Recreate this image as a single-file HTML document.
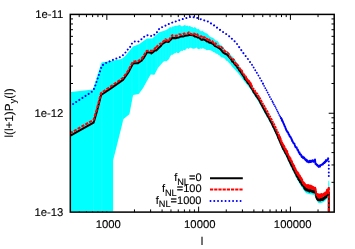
<!DOCTYPE html>
<html><head><meta charset="utf-8"><style>
html,body{margin:0;padding:0;background:#fff;}
svg{display:block;will-change:transform;}
text{font-family:"Liberation Sans",sans-serif;fill:#000;text-rendering:geometricPrecision;stroke:#000;stroke-width:0.12px;}
</style></head><body>
<svg width="355" height="249" viewBox="0 0 355 249">
<rect width="355" height="249" fill="#fff"/>
<defs><clipPath id="cp"><rect x="71" y="14" width="263" height="197.4"/></clipPath><clipPath id="cp2"><rect x="70.3" y="14.4" width="263.9" height="197.7"/></clipPath></defs>
<path d="M79.20,212.10 v-2.70 M79.20,14.40 v2.70 M86.46,212.10 v-2.70 M86.46,14.40 v2.70 M92.61,212.10 v-2.70 M92.61,14.40 v2.70 M97.93,212.10 v-2.70 M97.93,14.40 v2.70 M102.63,212.10 v-2.70 M102.63,14.40 v2.70 M106.83,212.10 v-5.50 M106.83,14.40 v5.50 M134.46,212.10 v-2.70 M134.46,14.40 v2.70 M150.62,212.10 v-2.70 M150.62,14.40 v2.70 M162.09,212.10 v-2.70 M162.09,14.40 v2.70 M170.98,212.10 v-2.70 M170.98,14.40 v2.70 M178.25,212.10 v-2.70 M178.25,14.40 v2.70 M184.40,212.10 v-2.70 M184.40,14.40 v2.70 M189.72,212.10 v-2.70 M189.72,14.40 v2.70 M194.42,212.10 v-2.70 M194.42,14.40 v2.70 M198.62,212.10 v-5.50 M198.62,14.40 v5.50 M226.25,212.10 v-2.70 M226.25,14.40 v2.70 M242.41,212.10 v-2.70 M242.41,14.40 v2.70 M253.88,212.10 v-2.70 M253.88,14.40 v2.70 M262.77,212.10 v-2.70 M262.77,14.40 v2.70 M270.04,212.10 v-2.70 M270.04,14.40 v2.70 M276.19,212.10 v-2.70 M276.19,14.40 v2.70 M281.51,212.10 v-2.70 M281.51,14.40 v2.70 M286.21,212.10 v-2.70 M286.21,14.40 v2.70 M290.41,212.10 v-5.50 M290.41,14.40 v5.50 M318.04,212.10 v-2.70 M318.04,14.40 v2.70 M70.30,182.34 h2.70 M334.20,182.34 h-2.70 M70.30,164.94 h2.70 M334.20,164.94 h-2.70 M70.30,152.59 h2.70 M334.20,152.59 h-2.70 M70.30,143.01 h2.70 M334.20,143.01 h-2.70 M70.30,135.18 h2.70 M334.20,135.18 h-2.70 M70.30,128.56 h2.70 M334.20,128.56 h-2.70 M70.30,122.83 h2.70 M334.20,122.83 h-2.70 M70.30,117.77 h2.70 M334.20,117.77 h-2.70 M70.30,113.25 h5.50 M334.20,113.25 h-5.50 M70.30,83.49 h2.70 M334.20,83.49 h-2.70 M70.30,66.09 h2.70 M334.20,66.09 h-2.70 M70.30,53.74 h2.70 M334.20,53.74 h-2.70 M70.30,44.16 h2.70 M334.20,44.16 h-2.70 M70.30,36.33 h2.70 M334.20,36.33 h-2.70 M70.30,29.71 h2.70 M334.20,29.71 h-2.70 M70.30,23.98 h2.70 M334.20,23.98 h-2.70 M70.30,18.92 h2.70 M334.20,18.92 h-2.70" stroke="#000" stroke-width="1" fill="none"/>
<g clip-path="url(#cp)">
<polygon points="70.00,212.00 70.00,92.00 93.00,89.50 101.50,62.50 113.60,60.60 121.50,59.00 125.30,56.00 133.00,46.50 139.00,44.30 147.00,38.60 152.20,38.40 159.20,32.30 165.00,30.50 166.25,29.74 167.50,29.17 168.75,28.31 170.00,27.03 171.25,27.52 172.50,26.50 173.75,26.40 175.00,25.73 176.25,25.70 177.50,25.71 178.75,25.27 180.00,24.82 181.25,26.19 182.50,26.14 183.75,25.45 185.00,25.00 186.22,25.99 187.44,25.53 188.67,26.55 189.89,25.83 191.11,27.11 192.33,27.12 193.56,28.06 194.78,26.94 196.00,28.00 197.25,29.23 198.50,28.72 199.75,30.17 201.00,31.61 202.25,30.60 203.50,31.74 204.75,32.54 206.00,33.28 207.25,33.51 208.50,35.00 209.75,36.59 211.00,37.33 212.25,37.46 213.50,38.26 214.75,39.40 216.00,40.67 217.25,40.82 218.50,41.92 219.75,44.60 221.00,45.00 222.25,45.90 223.50,47.50 224.75,49.53 226.00,50.86 227.25,51.25 228.50,52.65 229.75,53.62 231.00,55.60 232.00,55.90 234.00,58.55 236.00,61.20 238.00,64.00 240.00,67.25 242.00,70.50 244.00,73.75 246.00,76.87 248.00,79.86 250.00,82.57 252.00,85.97 254.00,89.37 256.00,92.33 258.00,95.28 260.00,98.61 262.00,102.31 264.00,105.93 266.00,109.45 268.00,112.98 270.00,116.50 272.00,120.47 274.00,124.43 276.00,128.71 278.00,133.30 280.00,137.90 282.00,142.49 284.00,146.52 286.00,150.00 288.00,153.99 290.00,158.18 292.00,162.21 294.00,166.20 296.00,170.17 298.00,173.63 300.00,176.95 302.00,180.00 304.00,182.99 306.00,185.50 308.00,186.11 310.00,186.67 312.00,187.01 314.00,187.35 316.00,190.60 318.00,195.20 320.00,195.74 322.00,195.15 324.00,194.22 326.00,192.28 328.00,189.70 328.20,187.00 328.40,180.70 329.20,180.70 329.40,187.00 329.60,212.00 328.00,197.30 326.00,199.88 324.00,201.82 322.00,202.75 320.00,203.34 318.00,202.80 316.00,198.20 314.00,194.95 312.00,194.61 310.00,194.27 308.00,193.71 306.00,193.10 304.00,190.59 302.00,187.60 300.00,184.55 298.00,181.06 296.00,177.43 294.00,173.30 292.00,169.14 290.00,164.95 288.00,160.59 286.00,156.44 284.00,152.86 282.00,148.79 280.00,144.16 278.00,139.54 276.00,134.91 274.00,130.60 272.00,126.60 270.00,122.60 268.00,119.03 266.00,115.46 264.00,111.89 262.00,108.22 260.00,104.47 258.00,101.10 256.00,98.10 254.00,95.10 252.00,91.69 250.00,88.53 248.00,86.07 246.00,83.62 244.00,81.04 242.00,78.32 240.00,75.61 238.00,72.89 236.00,70.63 234.00,68.51 232.00,66.40 230.50,64.20 229.00,63.10 227.50,61.00 226.21,60.87 224.92,58.84 223.62,57.81 222.33,57.56 221.04,57.19 219.75,55.60 218.54,55.09 217.32,53.77 216.11,53.72 214.90,52.40 213.52,52.24 212.14,51.00 210.76,50.45 209.38,50.01 208.00,50.10 206.72,50.21 205.43,49.22 204.15,48.80 202.87,48.28 201.58,48.67 200.30,48.50 198.97,49.18 197.64,48.64 196.31,47.52 194.99,48.46 193.66,48.63 192.33,48.58 191.00,47.75 189.80,47.84 188.60,49.01 187.40,48.32 186.20,48.65 185.00,50.57 183.80,49.76 182.60,50.98 181.40,50.64 180.20,51.60 178.97,52.93 177.74,53.17 176.51,52.34 175.29,53.32 174.06,53.55 172.83,54.87 171.60,54.70 170.32,55.99 169.03,59.08 167.75,60.20 166.20,61.53 164.65,60.96 163.10,61.90 158.10,67.75 154.40,74.75 150.60,74.40 143.10,88.00 138.75,94.00 133.10,94.90 129.40,114.25 123.50,119.00 113.10,160.60 113.10,212.00" fill="#00ffff"/>
<path d="M93.5,14 V212 M101.8,14 V212 M113.3,14 V212 M122.5,14 V212 M132.0,14 V212 M139.0,14 V212 M146.8,14 V212 M152.0,14 V212 M156.0,14 V212 M157.6,14 V212 M159.1,14 V212 M160.7,14 V212 M162.2,14 V212 M163.8,14 V212 M165.3,14 V212 M166.9,14 V212 M168.4,14 V212 M170.0,14 V212 M171.5,14 V212 M173.1,14 V212 M174.6,14 V212 M176.2,14 V212 M177.7,14 V212 M179.3,14 V212 M180.8,14 V212 M182.4,14 V212 M183.9,14 V212 M185.5,14 V212 M187.0,14 V212 M188.6,14 V212 M190.1,14 V212 M191.7,14 V212 M193.2,14 V212 M194.8,14 V212 M196.3,14 V212 M197.9,14 V212 M199.4,14 V212 M201.0,14 V212 M202.5,14 V212 M204.1,14 V212 M205.6,14 V212 M207.2,14 V212 M208.7,14 V212 M210.3,14 V212 M211.8,14 V212 M213.4,14 V212 M214.9,14 V212 M216.5,14 V212 M218.0,14 V212 M219.6,14 V212 M221.1,14 V212 M222.7,14 V212 M224.2,14 V212 M225.8,14 V212 M227.3,14 V212 M228.9,14 V212 M230.4,14 V212 M232.0,14 V212" stroke="#fff" stroke-opacity="0.15" stroke-width="0.6" fill="none"/>
</g>
<g clip-path="url(#cp2)">
<path d="M70.00,136.00 L93.60,122.60 L96.75,112.00 L101.10,95.00 L110.50,88.60 L123.00,79.90 L128.00,73.00 L133.00,63.60 L135.00,63.33 L137.00,63.16 L138.00,63.28 L139.00,62.31 L141.00,61.01 L141.75,60.57 L143.00,58.65 L143.70,58.01 L145.00,55.76 L146.80,52.65 L147.00,52.08 L149.00,52.60 L151.00,52.74 L151.40,53.50 L153.00,52.31 L155.00,50.26 L156.10,50.52 L157.00,49.73 L159.00,47.65 L161.00,45.87 L161.50,44.89 L163.00,43.43 L165.00,42.37 L165.40,41.43 L167.00,41.73 L168.75,41.95 L169.00,41.35 L171.00,39.49 L172.50,37.62 L173.00,38.24 L175.00,38.05 L175.60,38.30 L177.00,37.72 L179.00,37.40 L180.00,36.84 L181.00,36.25 L183.00,36.58 L185.00,35.89 L187.00,35.52 L188.75,35.19 L189.00,34.69 L191.00,34.94 L192.50,35.30 L193.00,35.13 L195.00,36.62 L197.00,36.63 L197.50,37.39 L199.00,37.56 L201.00,39.46 L202.25,39.99 L203.00,39.04 L205.00,39.97 L207.00,41.59 L208.50,41.46 L209.00,42.50 L211.00,43.00 L213.00,43.85 L214.75,45.78 L215.00,46.17 L217.00,46.86 L219.00,48.01 L221.00,49.77 L223.00,52.34 L225.00,53.75 L227.00,54.54 L227.50,55.14 L229.00,56.74 L231.00,59.09 L232.20,61.54 L233.40,62.15 L234.60,64.10 L235.80,65.39 L237.00,66.52 L237.50,67.78 L238.20,68.10 L239.40,70.52 L240.60,71.71 L241.80,73.86 L243.00,75.43 L244.20,77.30 L245.00,79.25 L245.40,79.62 L246.60,80.74 L247.80,82.97 L249.00,83.95 L250.00,85.50 L250.20,86.28 L251.40,88.14 L252.60,89.73 L253.80,92.57 L254.00,92.26 L255.00,93.80 L256.20,96.02 L257.40,97.47 L258.60,99.25 L259.00,99.69 L259.80,101.21 L261.00,103.81 L262.20,105.83 L263.00,107.57 L263.40,108.13 L264.60,110.33 L265.80,112.78 L266.50,113.74 L267.20,115.04 L267.90,116.47 L268.60,117.31 L269.30,118.54 L270.00,120.25 L270.70,121.59 L271.40,122.65 L272.10,124.01 L272.80,125.74 L273.50,127.26 L274.20,128.22 L274.90,130.07 L275.00,130.23 L275.60,131.45 L276.30,132.96 L277.00,134.39 L277.70,135.97 L278.40,138.14 L279.10,139.32 L279.80,141.22 L280.50,142.57 L280.72,143.42 L280.94,143.79 L281.16,144.12 L281.38,144.56 L281.60,145.39 L281.82,145.51 L282.04,146.12 L282.26,146.82 L282.48,147.51 L282.70,147.87 L282.92,148.18 L283.00,148.75 L283.14,148.56 L283.36,148.82 L283.58,149.37 L283.80,149.87 L284.02,149.98 L284.24,150.44 L284.46,150.97 L284.68,151.51 L284.90,151.54 L285.12,152.11 L285.34,152.94 L285.56,153.42 L285.78,153.52 L286.00,153.95 L286.22,154.24 L286.44,154.20 L286.66,154.47 L286.70,154.52 L286.88,155.80 L287.10,156.06 L287.32,156.82 L287.54,156.28 L287.76,157.42 L287.98,157.72 L288.20,158.48 L288.42,158.47 L288.64,159.75 L288.86,159.11 L289.08,160.16 L289.30,160.87 L289.50,161.52 L289.52,161.35 L289.74,161.75 L289.96,162.33 L290.18,162.95 L290.40,162.62 L290.62,163.53 L290.84,164.29 L291.06,164.71 L291.28,164.49 L291.50,165.50 L291.72,166.06 L291.94,166.07 L292.16,166.60 L292.38,166.66 L292.60,167.43 L292.75,167.78 L292.82,167.05 L293.04,168.41 L293.26,169.45 L293.48,169.71 L293.70,169.90 L293.92,169.74 L294.14,170.80 L294.36,170.97 L294.58,171.15 L294.80,172.33 L295.02,171.36 L295.24,173.05 L295.46,172.12 L295.68,173.66 L295.90,173.86 L296.12,173.80 L296.34,175.18 L296.45,174.99 L296.56,175.42 L296.78,176.42 L297.00,175.41 L297.22,175.26 L297.44,176.24 L297.66,177.41 L297.88,176.75 L298.10,177.04 L298.32,179.04 L298.54,178.86 L298.76,178.74 L298.98,180.14 L299.20,179.21 L299.42,180.36 L299.64,179.63 L299.86,180.55 L300.08,181.82 L300.15,182.19 L300.30,182.34 L300.52,181.48 L300.74,182.29 L300.96,181.99 L301.18,181.89 L301.40,183.08 L301.62,184.23 L301.84,184.59 L302.06,184.60 L302.28,185.50 L302.50,184.22 L302.72,184.30 L302.94,185.30 L303.16,185.22 L303.38,185.40 L303.60,186.22 L303.82,187.06 L303.85,186.79 L304.04,186.60 L304.26,188.13 L304.48,188.75 L304.70,187.75 L304.92,187.12 L305.14,187.30 L305.36,189.59 L305.58,187.87 L305.80,189.75 L306.00,189.67 L306.02,189.05 L306.24,190.27 L306.46,188.49 L306.68,188.83 L306.90,189.67 L307.12,188.70 L307.34,190.70 L307.56,189.35 L307.78,189.18 L308.00,189.02 L308.22,190.49 L308.44,190.12 L308.66,190.62 L308.88,190.75 L309.10,191.18 L309.32,191.61 L309.54,191.02 L309.60,189.88 L309.76,190.57 L309.98,189.89 L310.20,189.53 L310.42,190.67 L310.64,191.29 L310.86,190.04 L311.08,190.30 L311.30,190.52 L311.52,191.40 L311.74,191.01 L311.96,191.27 L312.18,191.65 L312.40,190.82 L312.62,191.81 L312.84,192.12 L313.06,190.20 L313.28,192.26 L313.50,191.79 L313.72,190.41 L313.94,191.22 L314.16,191.67 L314.38,192.39 L314.60,191.15 L314.82,191.65 L315.04,192.43 L315.26,192.27 L315.48,192.66 L315.50,191.51 L315.70,193.16 L315.92,193.41 L316.14,195.97 L316.36,197.52 L316.40,197.34 L316.58,197.77 L316.80,196.86 L317.02,198.81 L317.24,199.31 L317.46,199.60 L317.68,198.85 L317.90,199.76 L318.00,198.77 L318.12,200.22 L318.34,200.17 L318.56,199.02 L318.78,198.46 L319.00,199.39 L319.22,199.73 L319.44,200.32 L319.66,199.72 L319.80,198.67 L319.88,200.52 L320.10,198.66 L320.32,200.37 L320.54,198.79 L320.76,199.12 L320.98,200.14 L321.20,198.52 L321.42,198.48 L321.64,199.29 L321.86,199.72 L322.08,199.94 L322.30,199.51 L322.52,200.06 L322.74,198.91 L322.96,199.94 L323.18,197.80 L323.40,198.06 L323.50,198.76 L323.62,198.08 L323.84,198.92 L324.06,198.49 L324.28,198.00 L324.50,198.55 L324.72,197.66 L324.94,196.85 L325.16,196.81 L325.38,197.71 L325.60,197.62 L325.82,195.75 L326.04,197.08 L326.26,197.15 L326.48,195.87 L326.70,195.77 L326.80,194.78 L326.92,195.41 L327.14,195.00 L327.36,194.91 L327.58,193.20 L327.80,195.13 L328.02,193.71 L328.24,193.10 L328.46,193.73 L328.68,192.83 L328.80,192.48" fill="none" stroke="#000" stroke-width="2" stroke-linejoin="round"/>
<path d="M328.8,192 V212.1" fill="none" stroke="#000" stroke-width="2"/>
<path d="M70.00,133.30 L93.60,119.90 L96.75,109.62 L101.10,93.00 L110.50,86.60 L123.00,77.90 L128.00,71.00 L133.00,61.60 L135.00,61.47 L136.70,60.85 L138.00,61.03 L138.40,60.67 L140.10,60.00 L141.75,58.91 L141.80,58.21 L143.50,56.23 L143.70,55.59 L145.20,53.21 L146.80,50.80 L146.90,50.92 L148.60,50.68 L150.30,50.74 L151.40,50.73 L152.00,50.97 L153.70,50.33 L155.40,47.83 L156.10,48.50 L157.10,46.25 L158.80,45.06 L160.50,43.62 L161.50,43.67 L162.20,42.35 L163.90,40.98 L165.40,40.24 L165.60,39.23 L167.30,40.63 L168.75,39.55 L169.00,40.01 L170.70,37.41 L172.40,35.22 L172.50,35.76 L174.10,35.78 L175.60,35.85 L175.80,35.87 L177.50,35.64 L179.20,34.44 L180.00,34.31 L180.90,34.86 L182.60,34.29 L184.30,33.50 L185.00,33.90 L186.00,33.34 L187.70,33.70 L188.75,32.37 L189.40,33.50 L191.10,33.96 L192.50,34.41 L192.80,33.31 L194.50,33.75 L196.20,35.41 L197.50,34.34 L197.90,36.12 L199.60,36.82 L201.30,36.23 L202.25,36.96 L202.40,37.98 L203.50,37.38 L204.60,37.40 L205.70,39.21 L206.80,38.73 L207.90,39.81 L208.50,38.67 L209.00,39.54 L210.10,40.82 L211.20,40.19 L212.30,41.27 L213.40,42.95 L214.50,44.11 L214.75,44.39 L215.60,43.27 L216.70,44.82 L217.80,46.09 L218.90,46.34 L220.00,47.47 L221.00,47.17 L221.10,47.01 L222.20,48.01 L223.30,48.79 L224.40,50.74 L225.50,51.58 L226.60,52.61 L227.50,52.52 L227.70,52.83 L228.80,54.18 L229.90,56.76 L231.00,58.37 L232.10,59.55 L233.20,59.20 L234.30,60.44 L235.40,63.53 L236.50,63.86 L237.50,65.65 L237.60,64.93 L238.70,66.85 L239.80,68.58 L240.90,70.04 L241.35,71.04 L241.80,70.60 L242.25,72.54 L242.70,73.46 L243.15,72.93 L243.60,74.09 L244.05,75.24 L244.50,75.34 L244.95,75.66 L245.00,75.68 L245.40,76.79 L245.85,76.61 L246.30,78.60 L246.75,79.05 L247.20,79.50 L247.65,80.33 L248.10,80.59 L248.55,80.88 L249.00,81.76 L249.45,82.23 L249.90,83.46 L250.00,83.36 L250.35,83.25 L250.80,84.84 L251.25,85.39 L251.70,86.19" fill="none" stroke="#ff0000" stroke-width="2.1" stroke-dasharray="3.2,1.2" stroke-linejoin="round"/>
<path d="M246.30,78.60 L246.75,79.05 L247.20,79.50 L247.65,80.33 L248.10,80.59 L248.55,80.88 L249.00,81.76 L249.45,82.23 L249.90,83.46 L250.00,83.36 L250.35,83.25 L250.80,84.84 L251.25,85.39 L251.70,86.19 L252.15,86.99 L252.60,87.29 L253.05,88.59 L253.50,89.32 L253.95,89.89 L254.00,90.05 L254.40,90.63 L254.85,90.94 L255.30,91.90 L255.75,91.97 L256.20,92.88 L256.65,93.66 L257.10,93.96 L257.55,94.90 L258.00,95.78 L258.45,96.43 L258.90,96.83 L259.00,97.45 L259.35,97.91 L259.80,98.54 L260.25,99.57 L260.70,100.35 L261.15,101.16 L261.60,101.90 L262.05,103.10 L262.50,103.72 L262.95,104.59 L263.00,104.72 L263.40,105.56 L263.85,105.78 L264.30,106.92 L264.75,107.79 L265.20,108.29 L265.65,109.17 L266.10,109.76 L266.55,110.64 L267.00,111.54 L267.45,112.16 L267.90,113.05 L268.35,114.24 L268.80,114.82 L269.25,115.58 L269.70,116.65 L270.00,116.94 L270.15,117.49 L270.60,118.17 L271.05,119.17 L271.50,119.62 L271.95,120.83 L272.40,121.82 L272.85,122.28 L273.30,123.70 L273.75,124.13 L274.20,125.21 L274.65,125.92 L275.00,126.81 L275.10,127.11 L275.32,127.27 L275.54,128.35 L275.76,128.51 L275.98,129.09 L276.20,129.65 L276.42,129.97 L276.64,130.41 L276.86,131.22 L277.08,131.64 L277.30,131.90 L277.52,132.80 L277.74,132.91 L277.96,133.13 L278.18,133.86 L278.40,134.15 L278.62,134.76 L278.84,135.91 L279.06,136.01 L279.28,137.10 L279.50,137.44 L279.72,137.11 L279.94,138.77 L280.16,139.23 L280.38,138.61 L280.60,140.21 L280.82,140.08 L281.04,140.65 L281.26,141.86 L281.48,141.32 L281.70,142.23 L281.92,143.36 L282.14,143.55 L282.36,143.66 L282.58,144.98 L282.80,145.24 L283.00,145.35 L283.02,144.59 L283.24,145.81 L283.46,145.91 L283.68,145.85 L283.90,145.96 L284.12,147.18 L284.34,146.83 L284.56,147.79 L284.78,148.59 L285.00,148.58 L285.22,148.59 L285.44,149.59 L285.66,149.65 L285.88,150.75 L286.10,150.64 L286.32,151.99 L286.54,152.29 L286.70,152.12 L286.76,151.19 L286.98,151.38 L287.20,153.54 L287.42,153.78 L287.64,153.90 L287.86,153.77" fill="none" stroke="#ff0000" stroke-width="2.4" stroke-dasharray="2.3,0.7" stroke-linejoin="round"/>
<path d="M285.00,148.58 L285.22,148.59 L285.44,149.59 L285.66,149.65 L285.88,150.75 L286.10,150.64 L286.32,151.99 L286.54,152.29 L286.70,152.12 L286.76,151.19 L286.98,151.38 L287.20,153.54 L287.42,153.78 L287.64,153.90 L287.86,153.77 L288.08,154.03 L288.30,155.45 L288.52,155.64 L288.74,156.18 L288.96,156.75 L289.18,157.51 L289.40,156.60 L289.50,156.95 L289.62,159.02 L289.84,159.31 L290.06,159.67 L290.28,157.95 L290.50,158.44 L290.72,159.43 L290.94,160.28 L291.16,161.25 L291.38,160.28 L291.60,161.92 L291.82,161.06 L292.04,161.53 L292.26,163.64 L292.48,163.72 L292.70,164.40 L292.75,163.75 L292.92,164.40 L293.14,164.04 L293.36,164.86 L293.58,166.51 L293.80,167.23 L294.02,165.33 L294.24,165.90 L294.46,168.48 L294.68,168.34 L294.90,169.24 L295.12,167.90 L295.34,169.02 L295.56,168.92 L295.78,171.13 L296.00,170.14 L296.22,171.50 L296.44,173.02 L296.45,170.90 L296.66,171.96 L296.88,172.97 L297.10,173.90 L297.32,172.67 L297.54,172.84 L297.76,172.32 L297.98,175.22 L298.20,172.99 L298.42,173.36 L298.64,175.30 L298.86,175.41 L299.08,176.43 L299.30,175.53 L299.52,177.46 L299.74,175.52 L299.96,176.34 L300.15,178.14 L300.18,176.26 L300.40,177.33 L300.62,179.06 L300.84,179.29 L301.06,178.26 L301.28,178.12 L301.50,179.17 L301.72,180.73 L301.94,179.86 L302.16,179.36 L302.38,181.68 L302.60,181.54 L302.82,183.05 L303.04,183.45 L303.26,183.70 L303.48,182.43 L303.70,184.00 L303.85,182.54 L303.92,182.67 L304.14,183.22 L304.36,185.32 L304.58,185.46 L304.80,183.54 L305.02,184.20 L305.24,184.49 L305.46,184.76 L305.68,185.14 L305.90,185.39 L306.00,184.85 L306.12,186.16 L306.34,187.02 L306.56,186.21 L306.78,187.30 L307.00,186.42 L307.22,185.16 L307.44,187.23 L307.66,187.73 L307.88,185.72 L308.10,184.88 L308.32,186.66 L308.54,186.83 L308.76,186.98 L308.98,188.44 L309.20,187.41 L309.42,188.01 L309.60,185.47 L309.64,187.17 L309.86,188.05 L310.08,185.62 L310.30,185.65 L310.52,187.99 L310.74,188.60 L310.96,185.77 L311.18,187.74 L311.40,186.05 L311.62,188.21 L311.84,187.91 L312.06,186.51 L312.28,186.46 L312.50,188.44 L312.72,187.61 L312.94,188.51 L313.16,187.23 L313.38,187.06 L313.60,189.36 L313.82,188.33 L314.04,187.73 L314.26,187.92 L314.48,188.62 L314.70,188.61 L314.92,189.40 L315.14,187.62 L315.36,189.16 L315.50,188.60 L315.58,189.76 L315.80,190.91 L316.02,192.33 L316.24,193.85 L316.40,195.07 L316.46,193.99 L316.68,193.87 L316.90,194.85 L317.12,195.49 L317.34,194.41 L317.56,194.70 L317.78,194.00 L318.00,196.49 L318.22,197.48 L318.44,195.29 L318.66,194.59 L318.88,194.80 L319.10,195.69 L319.32,195.27 L319.54,197.85 L319.76,194.55 L319.80,195.49 L319.98,194.72 L320.20,196.63 L320.42,197.04 L320.64,194.76 L320.86,194.25 L321.08,195.67 L321.30,196.07 L321.52,197.22 L321.74,193.88 L321.96,194.09 L322.18,194.31 L322.40,194.36 L322.62,194.36 L322.84,196.12 L323.06,195.59 L323.28,194.12 L323.50,193.91 L323.72,194.06 L323.94,193.43 L324.16,195.44 L324.38,193.53 L324.60,194.22 L324.82,195.03 L325.04,193.53 L325.26,192.48 L325.48,194.66 L325.70,194.55 L325.92,192.15 L326.14,192.72 L326.36,194.08 L326.58,192.05 L326.80,190.82 L327.02,189.83 L327.24,192.97 L327.46,192.08 L327.68,190.13 L327.90,190.36 L328.12,189.98 L328.34,188.71 L328.56,191.17 L328.78,189.54 L328.80,187.88" fill="none" stroke="#ff0000" stroke-width="1.9" stroke-linejoin="round"/>
<path d="M328.8,187 V212.1" fill="none" stroke="#ff0000" stroke-width="1.9" stroke-dasharray="3.0,1.2"/>
<path d="M70.00,106.00 L92.60,91.25 L94.50,87.90 L102.00,65.50 L106.00,63.00 L113.60,59.60 L121.10,56.70 L124.60,53.70 L127.10,50.20 L129.70,47.80 L131.30,44.30 L133.90,41.60 L138.30,41.60 L141.40,39.30 L144.50,36.50 L147.90,35.10 L151.90,36.20 L155.60,33.90 L158.10,30.80 L159.50,28.40 L171.00,23.00 L183.00,19.00 L190.00,17.00 L196.00,17.50 L203.00,20.00 L208.00,21.50 L213.50,25.00 L221.00,30.60 L228.50,35.60 L236.00,42.50 L239.75,48.00 L240.00,48.25 L241.00,49.74 L242.00,51.11 L243.00,52.62 L244.00,54.00 L244.40,54.53 L245.00,55.18 L246.00,56.48 L247.00,57.83 L248.00,59.11 L249.00,60.64 L250.00,61.95 L251.00,63.45 L251.25,63.96 L252.00,64.85" fill="none" stroke="#0000ff" stroke-width="2" stroke-dasharray="0.01,3.7" stroke-linecap="round" stroke-linejoin="round"/>
<path d="M252.00,64.85 L253.00,66.57 L254.00,67.98 L255.00,69.89 L256.00,71.09 L257.00,73.12 L257.50,73.94 L258.00,74.83 L259.00,76.21 L260.00,78.11 L261.00,80.18 L262.00,81.59 L263.00,83.64" fill="none" stroke="#0000ff" stroke-width="1.9" stroke-dasharray="0.01,3.1" stroke-linecap="round" stroke-linejoin="round"/>
<path d="M263.00,83.64 L263.75,84.98 L264.00,85.79 L265.00,87.45 L266.00,89.56 L267.00,91.06 L268.00,93.34 L269.00,94.97 L270.00,97.28 L271.00,98.52 L271.60,100.27 L272.00,100.52 L273.00,102.73" fill="none" stroke="#0000ff" stroke-width="1.8" stroke-dasharray="0.01,2.5" stroke-linecap="round" stroke-linejoin="round"/>
<path d="M273.00,102.73 L274.00,104.64 L275.00,106.23 L275.30,107.42 L275.60,107.52 L275.90,108.10 L276.20,108.45 L276.50,109.24 L276.80,109.97 L277.10,110.78 L277.40,111.02 L277.70,111.91 L278.00,111.93 L278.30,112.78 L278.60,113.42 L278.90,114.50 L279.20,114.94 L279.50,115.34 L279.80,115.28 L280.10,116.22 L280.40,117.14 L280.70,117.23 L281.00,118.14 L281.30,118.61 L281.60,118.71 L281.90,120.34 L282.00,120.32 L282.20,120.14 L282.50,121.26 L282.80,121.59" fill="none" stroke="#0000ff" stroke-width="1.7" stroke-dasharray="0.01,2.0" stroke-linecap="round" stroke-linejoin="round"/>
<path d="M280.70,117.23 L281.00,118.14 L281.30,118.61 L281.60,118.71 L281.90,120.34 L282.00,120.32 L282.20,120.14 L282.50,121.26 L282.80,121.59 L283.10,122.36 L283.40,123.23 L283.70,123.63 L284.00,124.36 L284.30,125.10 L284.60,126.11 L284.90,126.30 L285.20,126.91 L285.50,128.24 L285.80,128.43 L286.10,129.87 L286.40,130.08 L286.70,130.83 L287.00,130.88 L287.30,132.06 L287.60,131.66 L287.90,132.26 L288.20,132.75 L288.50,134.07 L288.80,134.66 L289.10,134.49 L289.40,135.34 L289.70,136.49 L290.00,136.70 L290.30,136.54 L290.60,137.27 L290.90,137.72 L291.20,138.21 L291.50,139.17 L291.80,139.23 L292.10,141.03 L292.40,140.84 L292.70,141.51 L293.00,142.27 L293.25,142.91 L293.30,143.08 L293.60,142.91 L293.90,143.33 L294.20,143.96 L294.50,143.83 L294.80,144.95 L295.10,145.93 L295.40,146.89 L295.70,147.09 L296.00,147.38 L296.30,147.80 L296.60,147.33 L296.90,148.35 L297.20,148.87 L297.50,149.90 L297.80,149.47 L298.10,150.44 L298.40,151.17 L298.70,152.16 L299.00,152.73 L299.30,152.86 L299.50,152.39 L299.60,153.62 L299.90,154.31 L300.20,154.12 L300.50,154.21 L300.80,154.92 L301.10,154.71 L301.40,156.18 L301.70,156.94 L302.00,156.36 L302.30,156.99 L302.60,157.47 L302.90,156.59 L303.20,158.21 L303.50,157.90 L303.80,157.40 L304.10,157.46 L304.40,158.02 L304.70,158.88 L305.00,159.37 L305.30,158.97 L305.60,160.32 L305.90,159.57 L306.20,160.02 L306.50,159.67 L306.80,161.47 L307.10,160.23 L307.40,161.88 L307.70,161.50 L307.90,161.71 L308.00,161.70 L308.30,161.13 L308.60,162.26 L308.90,162.38 L309.20,162.03 L309.50,161.61 L309.80,160.71 L310.10,161.94 L310.40,160.95 L310.70,162.01 L311.00,160.79 L311.30,161.36 L311.60,161.79 L311.90,160.60 L312.20,161.22 L312.50,160.33 L312.80,160.22 L313.10,160.46 L313.40,161.88 L313.70,161.76 L314.00,161.22 L314.30,160.55 L314.60,160.65 L314.90,160.21 L315.00,159.39 L315.20,161.23 L315.50,163.81 L315.60,163.13 L315.80,163.63 L316.10,164.36 L316.40,164.03 L316.70,164.72 L317.00,165.31 L317.30,164.85 L317.60,165.72 L317.90,165.52 L318.20,166.32 L318.50,166.14 L318.80,166.96 L319.10,165.64 L319.40,166.54 L319.70,165.36 L320.00,166.60 L320.30,165.72 L320.60,165.25 L320.90,164.91 L321.20,165.06 L321.50,164.95 L321.80,164.84 L322.10,164.59 L322.40,163.88 L322.70,164.56 L323.00,164.05 L323.30,163.85 L323.60,162.81 L323.90,162.62 L324.20,162.63 L324.50,163.01 L324.60,162.25 L324.80,162.06 L325.10,161.61 L325.40,162.19 L325.70,160.86 L326.00,160.10 L326.30,161.03 L326.60,161.07 L326.90,160.49 L327.20,159.97 L327.50,159.97 L327.80,158.88 L328.10,159.12 L328.40,157.90 L328.70,157.72" fill="none" stroke="#0000ff" stroke-width="1.9" stroke-linejoin="round"/>
<path d="M328.8,161.6 V177" fill="none" stroke="#0000ff" stroke-width="2" stroke-dasharray="0.01,3.6" stroke-linecap="round"/>
</g>
<rect x="70.3" y="14.4" width="263.9" height="197.7" fill="none" stroke="#000" stroke-width="1.5"/>
<g font-size="11.3px">
<text x="63.3" y="18.2" text-anchor="end">1e-11</text>
<text x="63.3" y="117.2" text-anchor="end">1e-12</text>
<text x="63.3" y="216.4" text-anchor="end">1e-13</text>
<text x="108.3" y="228" text-anchor="middle">1000</text>
<text x="199.8" y="228" text-anchor="middle">10000</text>
<text x="292.7" y="228" text-anchor="middle">100000</text>
<text x="202" y="244.5" text-anchor="middle">l</text>
<text transform="translate(12.6,113) rotate(-90)" text-anchor="middle" font-size="11.7px">l(l+1)P<tspan font-size="9.4px" dy="3.7">y</tspan><tspan dy="-3.7">(l)</tspan></text>
</g>
<g font-size="11px">
<text x="201.5" y="181" text-anchor="end">f<tspan font-size="9.2px" dy="3.6">NL</tspan><tspan dy="-3.6">=0</tspan></text>
<text x="201.5" y="192.3" text-anchor="end">f<tspan font-size="9.2px" dy="3.6">NL</tspan><tspan dy="-3.6">=100</tspan></text>
<text x="201.5" y="203.6" text-anchor="end">f<tspan font-size="9.2px" dy="3.6">NL</tspan><tspan dy="-3.6">=1000</tspan></text>
</g>
<path d="M210,178.2 H242.8" stroke="#000" stroke-width="2"/>
<path d="M210,189.6 H242.8" stroke="#ff0000" stroke-width="2" stroke-dasharray="3.2,1.0"/>
<path d="M210.5,201 H242" stroke="#0000ff" stroke-width="2" stroke-dasharray="0.01,3.75" stroke-linecap="round"/>
</svg>
</body></html>
